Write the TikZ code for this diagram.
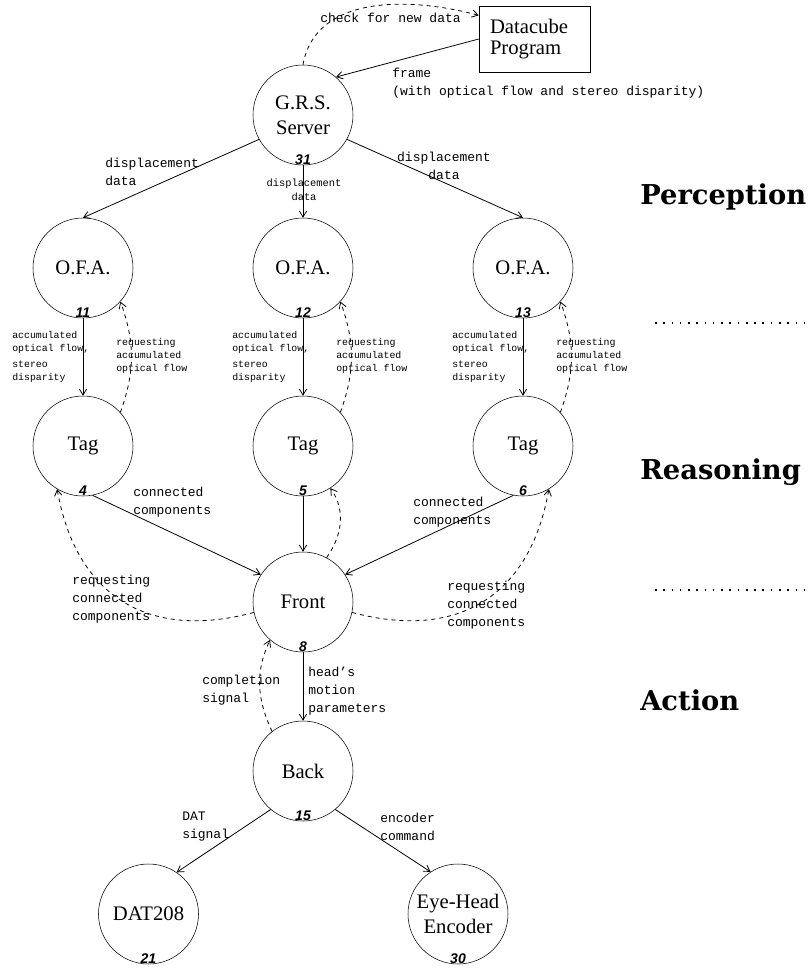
\documentclass[tikz,border=0pt]{standalone}
\usepackage{fontspec}
\setmainfont{Liberation Serif}
\newfontfamily\labfont{Liberation Mono}
\newfontfamily\numfont{Liberation Sans}
\newfontfamily\layerfont{DejaVu Serif}
\usetikzlibrary{arrows.meta}
\tikzset{
  proc/.style={circle, draw, minimum size=75pt, inner sep=0pt, align=center,
    font=\fontsize{15.5}{18.75}\selectfont},
  prog/.style={rectangle, draw, minimum height=49.5pt, text width=66.75pt,
    inner xsep=8.25pt, align=left, font=\fontsize{15.5}{15.75}\selectfont},
  num/.style={anchor=south, inner sep=0.6pt,
    font=\numfont\bfseries\itshape\fontsize{10.5}{12}\selectfont},
  lab/.style={anchor=west, inner sep=0pt, align=left,
    font=\labfont\fontsize{9.75}{13.5}\selectfont},
  slab/.style={anchor=west, inner sep=0pt, align=left,
    font=\labfont\fontsize{7.4}{10}\selectfont},
  layer/.style={anchor=west, inner sep=0pt,
    font=\layerfont\bfseries\fontsize{20.5}{24}\selectfont},
  flow/.style={->, line width=0.6pt},
  req/.style={->, dashed, line width=0.6pt},
  divider/.style={line width=1.2pt, dash pattern=on 1.2pt off 5pt},
  >={Straight Barb[length=4.5pt,width=5.5pt]}
}
\begin{document}
\begin{tikzpicture}[x=0.75pt,y=0.75pt]
  \useasboundingbox (0,0) rectangle (809,-968);
  % Nodes
  \node (dc) at (534.5,-39) [prog] {Datacube\\Program};
  \node (grs) at (303,-115) [proc] {G.R.S.\\Server};
  \node (ofa1) at (83,-268) [proc] {O.F.A.};
  \node (ofa2) at (303,-268) [proc] {O.F.A.};
  \node (ofa3) at (523,-268) [proc] {O.F.A.};
  \node (tag1) at (83,-446) [proc] {Tag};
  \node (tag2) at (303,-446) [proc] {Tag};
  \node (tag3) at (523,-446) [proc] {Tag};
  \node (front) at (303,-602) [proc] {Front};
  \node (back) at (303,-771) [proc] {Back};
  \node (dat) at (148.5,-914) [proc] {DAT208};
  \node (eye) at (458,-914) [proc] {Eye-Head\\Encoder};

  % Numbers
  \node (n31) at (grs.south) [num] {31};
  \node (n11) at (ofa1.south) [num] {11};
  \node (n12) at (ofa2.south) [num] {12};
  \node (n13) at (ofa3.south) [num] {13};
  \node (n4) at (tag1.south) [num] {4};
  \node (n5) at (tag2.south) [num] {5};
  \node (n6) at (tag3.south) [num] {6};
  \node (n8) at (front.south) [num] {8};
  \node (n15) at (back.south) [num] {15};
  \node (n21) at (dat.south) [num] {21};
  \node (n30) at (eye.south) [num] {30};

  % Layers
  \node (perc) at (640,-197) [layer] {Perception};
  \node (reas) at (640,-472) [layer] {Reasoning};
  \node (act) at (640,-700) [layer] {Action};
  \coordinate (div1a) at (655,-323);
  \coordinate (div1b) at (805,-323);
  \coordinate (div2a) at (655,-590);
  \coordinate (div2b) at (805,-590);
  \draw[divider] (div1a) -- (div1b);
  \draw[divider] (div2a) -- (div2b);

  % Edges
  \draw[req] (grs.north) to [out=80,in=165] (dc.157);
  \draw[flow] (dc.west) -- (grs.49);
  \draw[flow] (grs.209) -- (ofa1.north);
  \draw[flow] (grs.south) -- (ofa2.north);
  \draw[flow] (grs.-29) -- (ofa3.north);
  \draw[flow] (ofa1.south) -- (tag1.north);
  \draw[flow] (ofa2.south) -- (tag2.north);
  \draw[flow] (ofa3.south) -- (tag3.north);
  \draw[req] (tag1.42) to [out=70,in=-70] (ofa1.-42);
  \draw[req] (tag2.42) to [out=70,in=-70] (ofa2.-42);
  \draw[req] (tag3.42) to [out=70,in=-70] (ofa3.-42);
  \draw[flow] (tag1.281) -- (front.147);
  \draw[flow] (tag2.south) -- (front.north);
  \draw[flow] (tag3.259) -- (front.33);
  \draw[req] (front.62) to [out=55,in=-55] (tag2.-57);
  \draw[req] (front.192) to [out=195,in=-80,looseness=1.2] (tag1.239);
  \draw[req] (front.-12) to [out=-15,in=-100,looseness=1.2] (tag3.-59);
  \draw[flow] (front.south) -- (back.north);
  \draw[req] (back.128) to [out=115,in=-115] (front.229);
  \draw[flow] (back.230) -- (dat.56);
  \draw[flow] (back.-50) -- (eye.123);

  % Edge labels
  \node (lcheck) at (320,-18) [lab] {check for new data};
  \node (lframe) at (392,-83.5) [lab] {frame\\(with optical flow and stereo disparity)};
  \node (ldisp1) at (105,-171.5) [lab] {displacement\\data};
  \node (ldisp2) at (304,-190) [slab, anchor=center, align=center,
    font=\labfont\fontsize{7.8}{10.5}\selectfont] {displacement\\data};
  \node (ldisp3) at (444,-166) [lab, anchor=center, align=center] {displacement\\data};
  \node (lacc1) at (12,-357) [slab] {accumulated\\optical flow,\\[1.5pt]stereo\\disparity};
  \node (lacc2) at (232,-357) [slab] {accumulated\\optical flow,\\[1.5pt]stereo\\disparity};
  \node (lacc3) at (452,-357) [slab] {accumulated\\optical flow,\\[1.5pt]stereo\\disparity};
  \node (lreq1) at (116,-356) [slab] {requesting\\accumulated\\optical flow};
  \node (lreq2) at (336,-356) [slab] {requesting\\accumulated\\optical flow};
  \node (lreq3) at (556,-356) [slab] {requesting\\accumulated\\optical flow};
  \node (lcc1) at (133,-502) [lab] {connected\\components};
  \node (lcc3) at (413,-512.5) [lab] {connected\\components};
  \node (lrcc1) at (72,-599) [lab] {requesting\\connected\\components};
  \node (lrcc3) at (447,-605) [lab] {requesting\\connected\\components};
  \node (lhead) at (308,-691.5) [lab] {head’s\\motion\\parameters};
  \node (lcompl) at (202,-690) [lab] {completion\\signal};
  \node (ldat) at (182,-827) [lab] {DAT\\signal};
  \node (lenc) at (380,-827) [lab] {encoder\\command};
\end{tikzpicture}
\end{document}
